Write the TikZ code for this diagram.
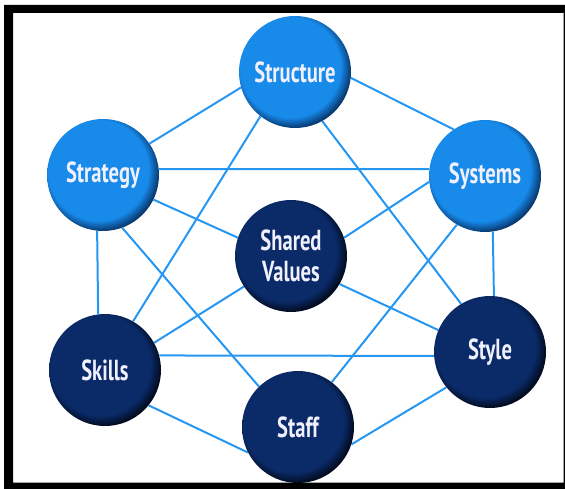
\documentclass[tikz,border=0pt]{standalone}
\usepackage{fontspec}
\usetikzlibrary{backgrounds}
\setmainfont{PT Sans}
\newfontfamily\labelfont{PT Sans}[FakeStretch=0.71]
\definecolor{lineblue}{HTML}{2596F2}
\definecolor{skyA}{HTML}{178AEA}
\definecolor{skyB}{HTML}{08366C}
\definecolor{navyA}{HTML}{0A2A68}
\definecolor{navyB}{HTML}{020A1C}
\pgfdeclareradialshading{skyball}{\pgfpoint{-4bp}{4bp}}{color(0bp)=(skyA);color(22.5bp)=(skyA);color(27bp)=(skyB);color(50bp)=(skyB)}
\pgfdeclareradialshading{navyball}{\pgfpoint{-4bp}{4bp}}{color(0bp)=(navyA);color(22.5bp)=(navyA);color(27bp)=(navyB);color(50bp)=(navyB)}
\tikzset{
  ball/.style={circle, minimum size=112pt, inner sep=0pt, text=white!94!blue,
    font=\labelfont\bfseries\fontsize{29}{31}\selectfont, align=center},
  sky/.style={ball, shading=skyball},
  navy/.style={ball, shading=navyball},
  link/.style={draw=lineblue, line width=2pt},
  frameband/.style={fill=black, even odd rule}
}
\begin{document}
\begin{tikzpicture}[x=1pt,y=-1pt]
\useasboundingbox (0,0) rectangle (565,489);
% nodes
\node[sky]  (structure) at (295,72)  {Structure};
\node[sky]  (strategy)  at (103,175) {Strategy};
\node[sky]  (systems)   at (485,176) {Systems};
\node[navy] (shared)    at (291,256) {Shared\\Values};
\node[navy] (skills)    at (105,370) {Skills};
\node[navy] (style)     at (490,352) {Style};
\node[navy] (staff)     at (298,427) {Staff};
% connectors (behind the balls)
\begin{scope}[on background layer]
\draw[link] (structure.196) -- (strategy.34);
\draw[link] (structure.354) -- (systems.124);
\draw[link] (structure.232) -- (skills.60);
\draw[link] (structure.299) -- (style.121);
\draw[link] (strategy.6) -- (systems.173);
\draw[link] (strategy.264) -- (skills.97);
\draw[link] (strategy.334) -- (shared.161);
\draw[link] (shared.330) -- (style.157);
\draw[link] (strategy.290) -- (staff.134);
\draw[link] (systems.186) -- (shared.19);
\draw[link] (shared.213) -- (skills.29);
\draw[link] (systems.278) -- (style.86);
\draw[link] (systems.240) -- (staff.53);
\draw[link] (skills.15) -- (style.184);
\draw[link] (skills.321) -- (staff.207);
\draw[link] (staff.342) -- (style.219);
\end{scope}
% frame
\path[frameband] (4,5) rectangle (565,489) (13,13) rectangle (563.5,482.5);
\end{tikzpicture}
\end{document}
